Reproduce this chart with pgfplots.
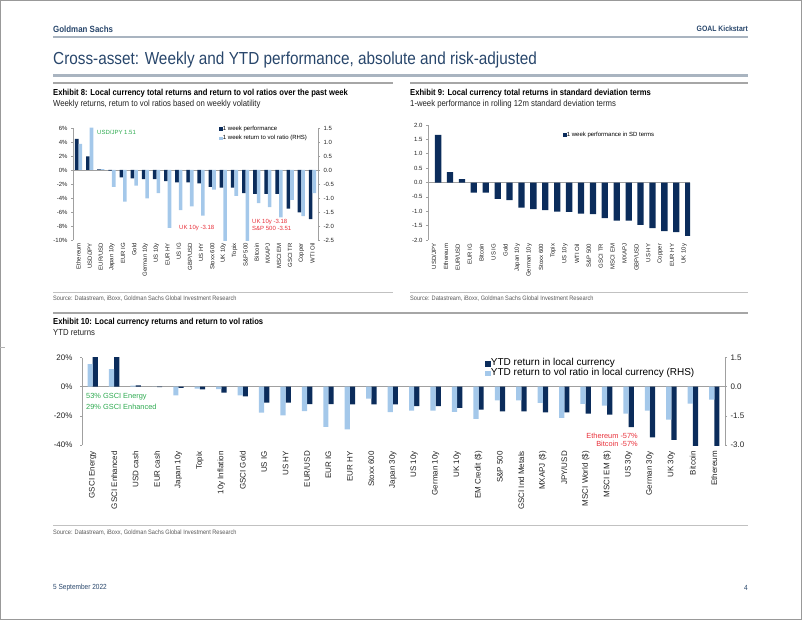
\documentclass[border=0pt]{standalone}
\usepackage{pgfplots}
\pgfplotsset{compat=1.18}
\usepackage{fontspec}
\setmainfont{Liberation Sans}
\newfontfamily\cond[FakeStretch=0.88]{Liberation Sans}
\definecolor{navy}{HTML}{0B2C5B}
\definecolor{lblue}{HTML}{A4C8EA}
\definecolor{hdr}{HTML}{28466B}
\definecolor{hline}{HTML}{A9B4C0}
\definecolor{sline}{HTML}{A6A6A6}
\definecolor{agreen}{HTML}{2EAA50}
\definecolor{ared}{HTML}{E8303A}
\definecolor{axgray}{HTML}{A0A0A0}
\definecolor{txt}{HTML}{222222}
\newcommand{\fs}[1]{\fontsize{#1pt}{#1pt}\selectfont}
\pgfplotsset{
  gsbase/.style={
    scale only axis, anchor=south west,
    /pgf/number format/assume math mode=true,
    axis line style={-, axgray, line width=0.6pt},
    tick style={axgray, line width=0.6pt},
    major tick length=2pt, tick align=outside,
    xmin=-0.5, ybar,
    tick label style={text=txt},
    legend style={draw=none, fill=none, inner sep=0pt, legend cell align=left},
  },
  leftax/.style={gsbase, axis y line*=left, axis x line*=bottom,
    x axis line style={draw=none}, xtick style={draw=none}},
  rightax/.style={gsbase, axis y line*=right, axis x line=none},
}
\begin{document}
\begin{tikzpicture}
\begin{scope}[x=1pt,y=-1pt]
\useasboundingbox (0,0) rectangle (802,620);
\draw[gray!80, line width=1pt] (0.5,0.5) rectangle (801.5,619.5);
\draw[gray!60, line width=0.6pt] (0,347) -- (5,347);
\node[anchor=west, inner sep=0, text=hdr, font=\cond\bfseries\fs{9}] at (53,29) {Goldman Sachs};
\node[anchor=east, inner sep=0, text=hdr, font=\cond\bfseries\fs{7.8}] at (748,29) {GOAL Kickstart};
\draw[hline, line width=1.5pt] (53,37) -- (748,37);
\node[anchor=west, inner sep=0, text=hdr, font=\cond\fs{17.4}] at (53,60) {Cross-asset: Weekly and YTD performance, absolute and risk-adjusted};
\draw[hline, line width=2.2pt] (53,75.5) -- (748,75.5);
% section lines
\draw[sline, line width=1.2pt] (53,83) -- (393,83);
\draw[sline, line width=1.2pt] (410,83) -- (748,83);
\draw[sline, line width=1.2pt] (53,313) -- (748,313);
% exhibit titles
\node[anchor=west, inner sep=0, font=\cond\bfseries\fs{8.7}] at (53,93) {Exhibit 8: Local currency total returns and return to vol ratios over the past week};
\node[anchor=west, inner sep=0, text=txt, font=\cond\fs{8.8}] at (53,104) {Weekly returns, return to vol ratios based on weekly volatility};
\node[anchor=west, inner sep=0, font=\cond\bfseries\fs{8.7}] at (410,93) {Exhibit 9: Local currency total returns in standard deviation terms};
\node[anchor=west, inner sep=0, text=txt, font=\cond\fs{8.8}] at (410,104) {1-week performance in rolling 12m standard deviation terms};
\node[anchor=west, inner sep=0, font=\cond\bfseries\fs{8.7}] at (53,322) {Exhibit 10: Local currency returns and return to vol ratios};
\node[anchor=west, inner sep=0, text=txt, font=\cond\fs{8.8}] at (53,333) {YTD returns};
% source lines
\draw[sline!70, line width=0.8pt] (53,292) -- (393,292);
\draw[sline!70, line width=0.8pt] (410,292) -- (748,292);
\draw[sline!70, line width=0.8pt] (53,525) -- (748,525);
\node[anchor=west, inner sep=0, text=black!65, font=\cond\fs{6.4}] at (53,298.5) {Source: Datastream, iBoxx, Goldman Sachs Global Investment Research};
\node[anchor=west, inner sep=0, text=black!65, font=\cond\fs{6.4}] at (410,298.5) {Source: Datastream, iBoxx, Goldman Sachs Global Investment Research};
\node[anchor=west, inner sep=0, text=black!65, font=\cond\fs{6.4}] at (53,533) {Source: Datastream, iBoxx, Goldman Sachs Global Investment Research};
% footer
\node[anchor=west, inner sep=0, text=hdr, font=\cond\fs{7.4}] at (53,588) {5 September 2022};
\node[anchor=east, inner sep=0, text=hdr, font=\cond\fs{7.4}] at (748,588) {4};
% annotations
\node[anchor=west, inner sep=0, text=agreen, font=\fs{6}] at (97,132) {USD/JPY 1.51};
\node[anchor=west, inner sep=0, text=ared, font=\fs{6}] at (179,228) {UK 10y -3.18};
\node[anchor=west, inner sep=0, text=ared, font=\fs{6}] at (252,222.5) {UK 10y -3.18};
\node[anchor=west, inner sep=0, text=ared, font=\fs{6}] at (252,228.5) {S\&P 500 -3.51};
\node[anchor=west, inner sep=0, text=agreen, font=\fs{7.4}] at (86,397) {53\% GSCI Energy};
\node[anchor=west, inner sep=0, text=agreen, font=\fs{7.4}] at (86,407) {29\% GSCI Enhanced};
\node[anchor=east, inner sep=0, text=ared, font=\fs{7.4}] at (638,436) {Ethereum -57\%};
\node[anchor=east, inner sep=0, text=ared, font=\fs{7.4}] at (638,444) {Bitcoin -57\%};
\end{scope}

% ===== Exhibit 8 =====
\begin{axis}[leftax, at={(73pt,-240pt)}, width=245pt, height=112pt,
  xmax=21.5, ymin=-10, ymax=6, ytick={-10,-8,-6,-4,-2,0,2,4,6},
  yticklabel={\pgfmathprintnumber{\tick}\%},
  yticklabel style={font=\fs{6}},
  bar width=3.6pt,
  xtick={0,...,21},
  xticklabels={Ethereum,USD/JPY,EUR/USD,Japan 10y,EUR IG,Gold,German 10y,US 10y,EUR HY,US IG,GBP/USD,US HY,Stoxx 600,UK 10y,Topix,S\&P 500,Bitcoin,MXAPJ,MSCI EM,GSCI TR,Copper,WTI Oil},
  xticklabel style={rotate=90, anchor=east, font=\fs{6}, inner xsep=1pt, inner ysep=0pt},
]
\draw[axgray, line width=0.6pt] (-0.5,0) -- (21.5,0);
\addplot[fill=navy, draw=none, bar shift=-1.8pt] coordinates {
(0,4.43) (1,1.95) (2,0.10) (3,-0.10) (4,-1.05) (5,-1.20) (6,-1.30) (7,-1.30) (8,-1.60) (9,-1.75) (10,-1.75)
(11,-1.90) (12,-2.40) (13,-2.50) (14,-2.50) (15,-3.30) (16,-3.40) (17,-3.40) (18,-3.40) (19,-5.50) (20,-6.05) (21,-7.00)};
\end{axis}
\begin{axis}[rightax, at={(73pt,-240pt)}, width=245pt, height=112pt,
  xmax=21.5, ymin=-2.5, ymax=1.5, ytick={-2.5,-2,-1.5,-1,-0.5,0,0.5,1,1.5},
  yticklabel style={font=\fs{6}, /pgf/number format/.cd, fixed, fixed zerofill, precision=1},
  bar width=3.6pt,
  legend style={at={(rel axis cs:0.596,1.027)}, anchor=north west, font=\fs{6}, row sep=3pt,
    nodes={inner sep=0.5pt, text height=4.4pt, text depth=1.3pt}},
]
\addlegendimage{legend image code/.code={\fill[navy] (0pt,-1.4pt) rectangle (2.8pt,1.4pt);}}
\addlegendentry{1 week performance}
\addlegendimage{legend image code/.code={\fill[lblue] (0pt,-1.4pt) rectangle (2.8pt,1.4pt);}}
\addlegendentry{1 week return to vol ratio (RHS)}
\addplot[fill=lblue, draw=none, bar shift=1.8pt, forget plot] coordinates {
(0,0.93) (1,1.51) (2,0.03) (3,-0.60) (4,-1.13) (5,-0.56) (6,-1.01) (7,-0.83) (8,-2.07) (9,-1.43) (10,-1.30)
(11,-1.63) (12,-0.70) (13,-3.18) (14,-0.92) (15,-3.51) (16,-1.18) (17,-1.33) (18,-1.69) (19,-1.07) (20,-1.65) (21,-0.83)};
\end{axis}

% ===== Exhibit 9 =====
\begin{axis}[leftax, at={(428pt,-240pt)}, width=262pt, height=115pt,
  xmax=21.5, ymin=-2, ymax=2, ytick={-2,-1.5,-1,-0.5,0,0.5,1,1.5,2},
  yticklabel style={font=\fs{6}, /pgf/number format/.cd, fixed, fixed zerofill, precision=1},
  bar width=6.3pt,
  xtick={0,...,21},
  xticklabels={USD/JPY,Ethereum,EUR/USD,EUR IG,Bitcoin,US IG,Gold,Japan 10y,German 10y,Stoxx 600,Topix,US 10y,WTI Oil,S\&P 500,GSCI TR,MSCI EM,MXAPJ,GBP/USD,US HY,Copper,EUR HY,UK 10y},
  xticklabel style={rotate=90, anchor=east, font=\fs{6}, inner xsep=1.5pt, inner ysep=0pt},
  legend style={at={(rel axis cs:0.515,0.948)}, anchor=north west, font=\fs{6},
    nodes={inner sep=0.5pt, text height=4.4pt, text depth=1.3pt}},
]
\draw[axgray, line width=0.6pt] (-0.5,0) -- (21.5,0);
\addlegendimage{legend image code/.code={\fill[navy] (0pt,-1.4pt) rectangle (2.8pt,1.4pt);}}
\addlegendentry{1 week performance in SD terms}
\addplot[fill=navy, draw=none, forget plot] coordinates {
(0,1.66) (1,0.36) (2,0.12) (3,-0.35) (4,-0.35) (5,-0.57) (6,-0.61) (7,-0.87) (8,-0.93) (9,-0.96) (10,-1.01)
(11,-1.02) (12,-1.08) (13,-1.10) (14,-1.24) (15,-1.33) (16,-1.33) (17,-1.47) (18,-1.59) (19,-1.69) (20,-1.73) (21,-1.86)};
\end{axis}

% ===== Exhibit 10 =====
\begin{axis}[leftax, at={(82pt,-445pt)}, width=643pt, height=87.5pt,
  xmax=29.5, ymin=-40, ymax=20, ytick={-40,-20,0,20},
  yticklabel={\pgfmathprintnumber{\tick}\%},
  yticklabel style={font=\fs{8}, xshift=-4pt},
  bar width=5.2pt,
  xtick={0,...,29},
  xticklabels={GSCI Energy,GSCI Enhanced,USD cash,EUR cash,Japan 10y,Topix,10y Inflation,GSCI Gold,US IG,US HY,EUR/USD,EUR IG,EUR HY,Stoxx 600,Japan 30y,US 10y,German 10y,UK 10y,EM Credit (\$),S\&P 500,GSCI Ind Metals,MXAPJ (\$),JPY/USD,MSCI World (\$),MSCI EM (\$),US 30y,German 30y,UK 30y,Bitcoin,Ethereum},
  xticklabel style={rotate=90, anchor=east, font=\fs{8}, inner xsep=4pt, inner ysep=0pt},
]
\draw[axgray, line width=0.6pt] (-0.5,0) -- (29.5,0);
\addplot[fill=navy, draw=none, bar shift=2.6pt] coordinates {
(0,53) (1,29) (2,0.9) (3,-0.3) (4,-0.8) (5,-1.8) (6,-4.1) (7,-6.7) (8,-11.0) (9,-11.0)
(10,-12.0) (11,-12.0) (12,-12.2) (13,-12.2) (14,-12.2) (15,-13.4) (16,-13.4) (17,-14.6) (18,-15.7) (19,-16.9)
(20,-16.9) (21,-17.6) (22,-17.6) (23,-18.5) (24,-19.2) (25,-27.7) (26,-34.7) (27,-36.5) (28,-57) (29,-57)};
\end{axis}
\begin{axis}[rightax, at={(82pt,-445pt)}, width=643pt, height=87.5pt,
  xmax=29.5, ymin=-3, ymax=1.5, ytick={-3,-1.5,0,1.5},
  yticklabel style={font=\fs{8}, /pgf/number format/.cd, fixed, fixed zerofill, precision=1},
  bar width=5.2pt,
  legend style={at={(rel axis cs:0.627,0.99)}, anchor=north west, font=\fs{10}, row sep=0pt,
    nodes={inner sep=0.5pt, text height=6.6pt, text depth=1.9pt}},
]
\addlegendimage{legend image code/.code={\fill[navy] (0pt,-2.6pt) rectangle (4.7pt,2.1pt);}}
\addlegendentry{YTD return in local currency}
\addlegendimage{legend image code/.code={\fill[lblue] (0pt,-2.6pt) rectangle (4.7pt,2.1pt);}}
\addlegendentry{YTD return to vol ratio in local currency (RHS)}
\addplot[fill=lblue, draw=none, bar shift=-2.6pt, forget plot] coordinates {
(0,1.16) (1,0.90) (2,0.05) (3,0.0) (4,-0.45) (5,-0.10) (6,-0.12) (7,-0.45) (8,-1.34) (9,-1.48)
(10,-1.26) (11,-2.07) (12,-2.20) (13,-0.62) (14,-1.31) (15,-1.23) (16,-1.23) (17,-1.30) (18,-1.66) (19,-0.71)
(20,-0.71) (21,-0.83) (22,-1.61) (23,-0.88) (24,-0.97) (25,-1.39) (26,-1.23) (27,-1.70) (28,-0.87) (29,-0.66)};
\end{axis}
\end{tikzpicture}
\end{document}
